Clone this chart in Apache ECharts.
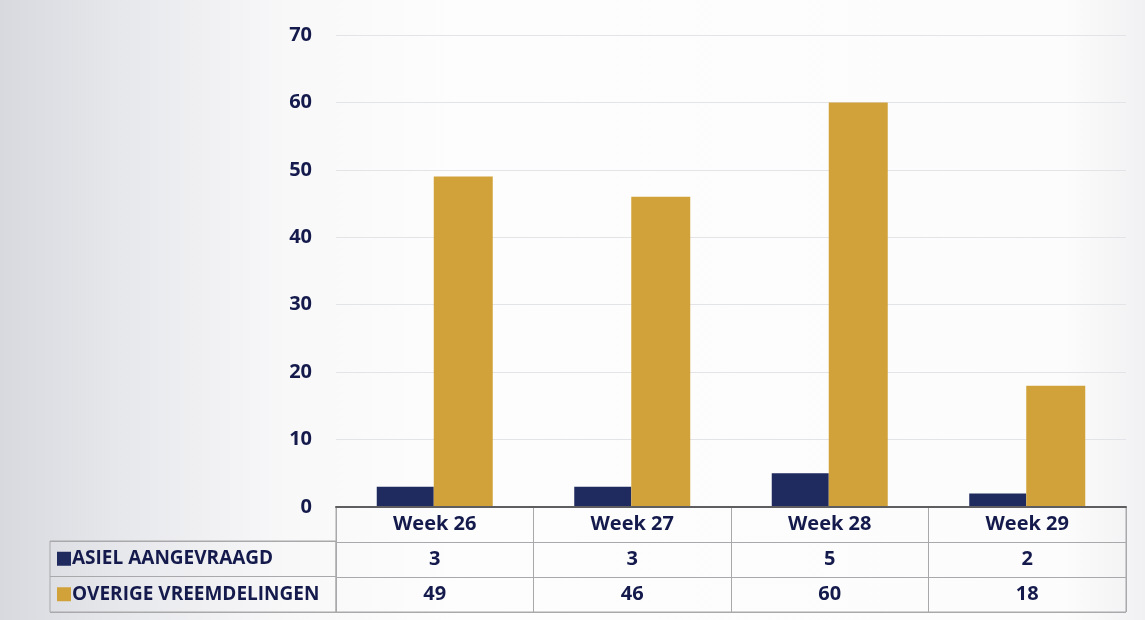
<!DOCTYPE html>
<html><head><meta charset="utf-8">
<script src="https://cdn.jsdelivr.net/npm/echarts@6/dist/echarts.min.js"></script>
<style>html,body{margin:0;padding:0;}#c{width:1145px;height:620px;}</style>
</head><body><div id="c"></div>
<script>
const weeks = ['Week 26', 'Week 27', 'Week 28', 'Week 29'];
const seriesNames = ['ASIEL AANGEVRAAGD', 'OVERIGE VREEMDELINGEN'];
const asiel = [3, 3, 5, 2];
const overige = [49, 46, 60, 18];
const yTicks = { min: 0, max: 70, interval: 10 };

const NAVY = '#1f2a5e', GOLD = '#d2a23a', TXT = '#141a4c', FONT = 'Open Sans';
const tableRows = ['hdr', 'a', 'o'];
const tableData = [];
weeks.forEach((w, i) => {
  tableData.push([i, 0, w]);
  tableData.push([i, 1, String(asiel[i])]);
  tableData.push([i, 2, String(overige[i])]);
});

const chart = echarts.init(document.getElementById('c'), null, { renderer: 'canvas' });
chart.setOption({
  backgroundColor: {
    type: 'linear', x: 0, y: 0, x2: 1, y2: 0,
    colorStops: [
      { offset: 0, color: '#d8d9de' }, { offset: 0.1, color: '#e6e7eb' },
      { offset: 0.25, color: '#f8f8f9' }, { offset: 0.4, color: '#fdfdfd' },
      { offset: 0.93, color: '#fcfcfc' }, { offset: 1, color: '#f1f1f3' }
    ]
  },
  animation: false,
  textStyle: { fontFamily: FONT },
  grid: [
    { left: 336, width: 790, top: 35, height: 472 },
    { left: 336, width: 790, top: 507, height: 105, show: true, borderColor: '#a9a9ab', borderWidth: 1, backgroundColor: 'transparent' },
    { left: 50, width: 286, top: 541, height: 71, show: true, borderColor: '#a9a9ab', borderWidth: 1 }
  ],
  xAxis: [
    { gridIndex: 0, type: 'category', data: weeks, z: 10,
      axisLine: { show: true, lineStyle: { color: '#5e5e60', width: 2 } },
      axisTick: { show: false }, axisLabel: { show: false } },
    { gridIndex: 1, type: 'category', data: weeks,
      axisLine: { show: false }, axisTick: { show: false }, axisLabel: { show: false },
      splitLine: { show: true, interval: 0, lineStyle: { color: '#a9a9ab', width: 1 } } },
    { gridIndex: 2, type: 'value', min: 0, max: 1, show: false }
  ],
  yAxis: [
    { gridIndex: 0, type: 'value', min: yTicks.min, max: yTicks.max, interval: yTicks.interval,
      axisLine: { show: false }, axisTick: { show: false },
      axisLabel: { color: TXT, fontSize: 20, fontWeight: 'bold', margin: 24, fontFamily: FONT },
      splitLine: { show: true, lineStyle: { color: '#e3e4e7', width: 1 } } },
    { gridIndex: 1, type: 'category', data: tableRows, inverse: true,
      axisLine: { show: false }, axisTick: { show: false }, axisLabel: { show: false },
      splitLine: { show: true, interval: 0, lineStyle: { color: '#a9a9ab', width: 1 } } },
    { gridIndex: 2, type: 'category', data: seriesNames, inverse: true,
      axisLine: { show: false }, axisTick: { show: false },
      splitLine: { show: true, interval: 0, lineStyle: { color: '#a9a9ab', width: 1 } },
      axisLabel: { inside: true, margin: 7,
        formatter: (v, i) => '{' + (i === 0 ? 'n' : 'g') + '|}{t|' + v + '}',
        rich: {
          n: { backgroundColor: NAVY, width: 14, height: 14 },
          g: { backgroundColor: GOLD, width: 14, height: 14 },
          t: { color: TXT, fontSize: 19, fontWeight: 'bold', fontFamily: FONT, padding: [0, 0, 0, 1] }
        } } }
  ],
  series: [
    { type: 'bar', name: seriesNames[0], xAxisIndex: 0, yAxisIndex: 0, data: asiel,
      barWidth: 57, barGap: '0%', itemStyle: { color: NAVY } },
    { type: 'bar', name: seriesNames[1], xAxisIndex: 0, yAxisIndex: 0, data: overige,
      barWidth: 59, barGap: '0%', itemStyle: { color: GOLD } },
    { type: 'scatter', xAxisIndex: 1, yAxisIndex: 1, data: tableData,
      symbol: 'rect', symbolSize: 1, itemStyle: { color: 'rgba(0,0,0,0)', opacity: 1 },
      label: { show: true, position: 'inside', formatter: p => p.data[2], opacity: 1,
        color: TXT, fontSize: 20, fontWeight: 'bold', fontFamily: FONT } }
  ]
});
</script></body></html>
